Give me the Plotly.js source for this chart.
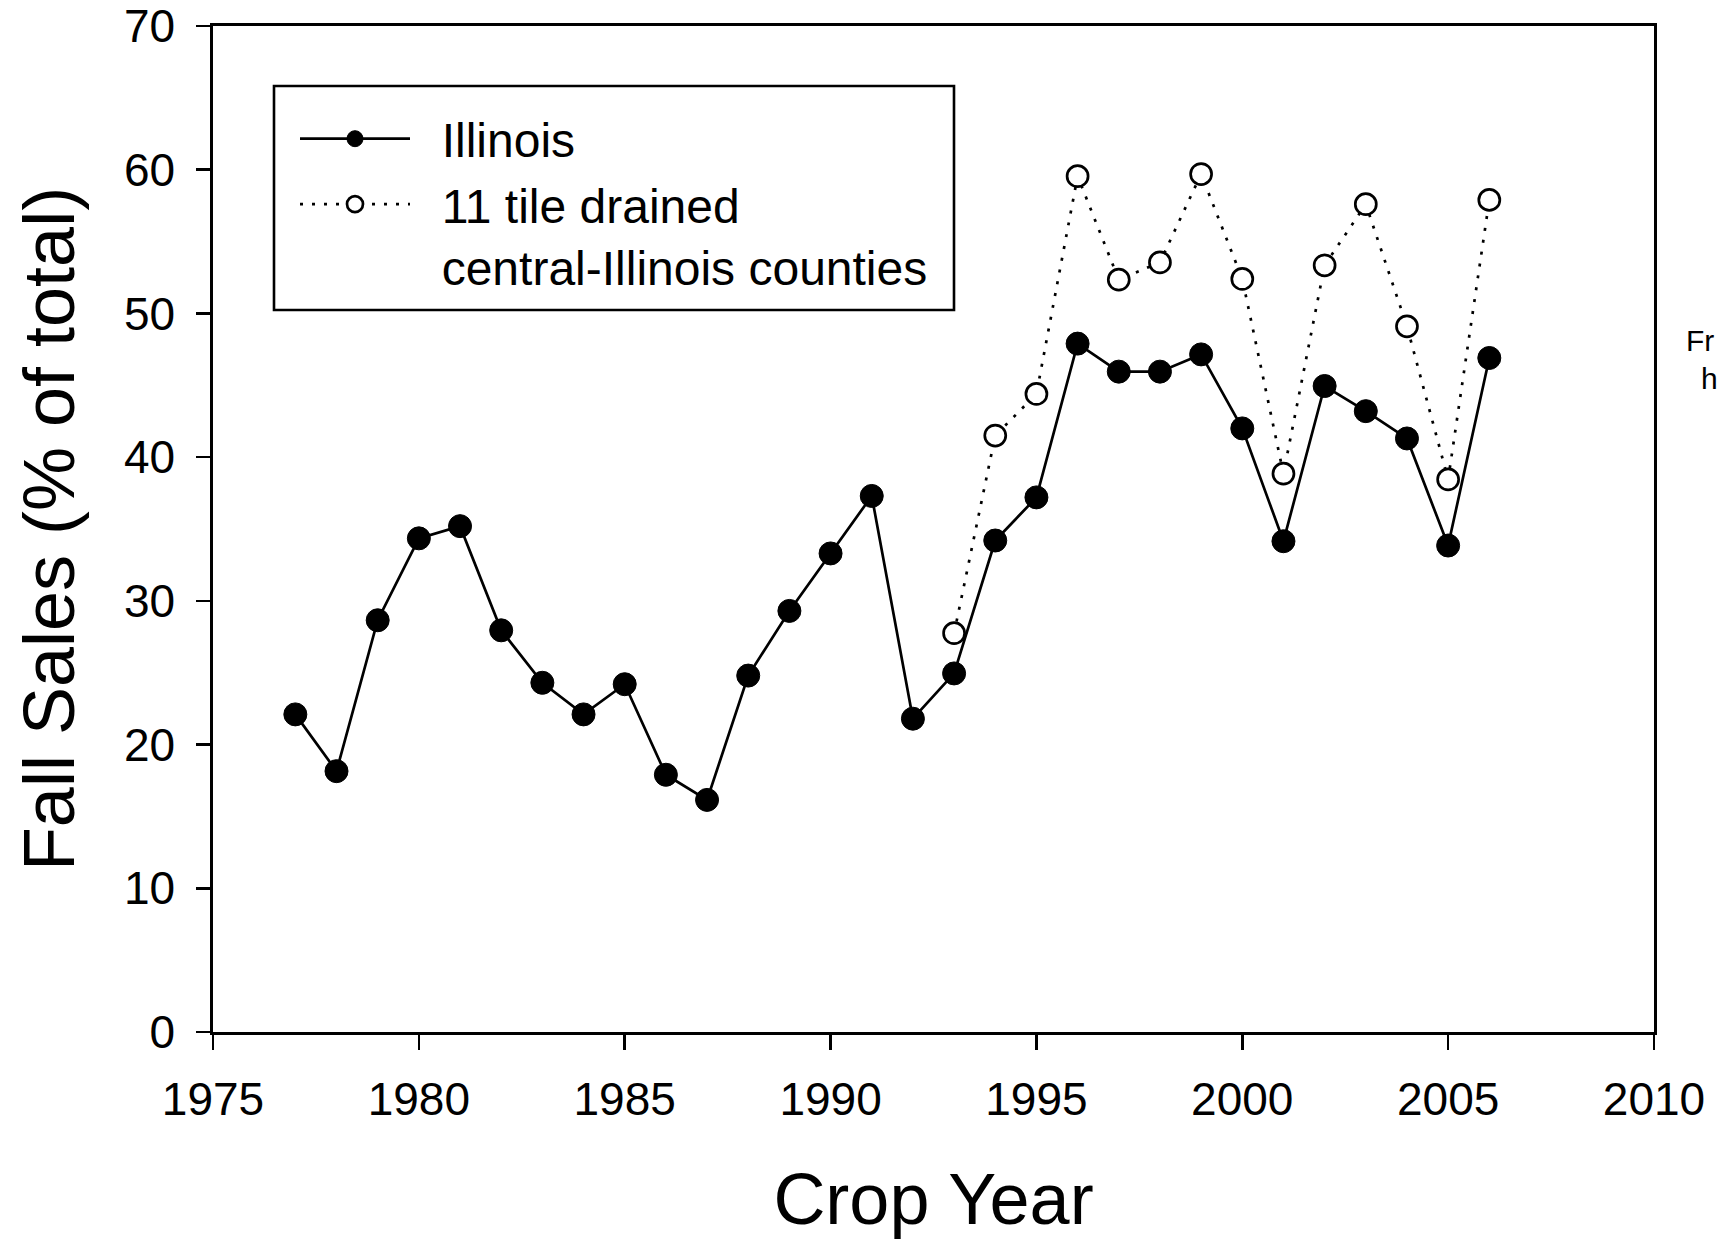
<!DOCTYPE html>
<html>
<head>
<meta charset="utf-8">
<script src="https://cdn.plot.ly/plotly-3.0.1.min.js"></script>
<style>html,body{margin:0;padding:0;background:#fff;}#chart{width:1720px;height:1239px;}</style>
</head>
<body>
<div id="chart"></div>
<script>
// Data
const illinoisYears = [1977,1978,1979,1980,1981,1982,1983,1984,1985,1986,1987,1988,1989,1990,1991,1992,1993,1994,1995,1996,1997,1998,1999,2000,2001,2002,2003,2004,2005,2006];
const illinoisValues = [22.1,18.15,28.65,34.35,35.2,27.95,24.3,22.1,24.2,17.9,16.15,24.8,29.3,33.3,37.3,21.8,24.95,34.2,37.2,47.9,45.95,45.95,47.15,42.0,34.15,44.95,43.2,41.3,33.85,46.9];
const countyYears = [1993,1994,1995,1996,1997,1998,1999,2000,2001,2002,2003,2004,2005,2006];
const countyValues = [27.75,41.5,44.4,59.55,52.35,53.55,59.7,52.4,38.85,53.35,57.6,49.1,38.45,57.9];
const xTicks = [1975,1980,1985,1990,1995,2000,2005,2010];
const yTicks = [0,10,20,30,40,50,60,70];
const NB = "\u00A0\u00A0";
const seriesNames = [NB + "Illinois", NB + "11 tile drained<br>" + NB + "central-Illinois counties"];

const FONT = "Liberation Sans, Arial, Helvetica, sans-serif";

const traces = [
  {
    x: illinoisYears, y: illinoisValues, name: seriesNames[0],
    type: "scatter", mode: "lines+markers",
    line: {color: "#000", width: 2.7},
    marker: {symbol: "circle", size: 23, color: "#000", line: {color: "#000", width: 1}},
    cliponaxis: false
  },
  {
    x: countyYears, y: countyValues, name: seriesNames[1],
    type: "scatter", mode: "lines+markers",
    line: {color: "#000", width: 2.7, dash: "3px,9px"},
    marker: {symbol: "circle", size: 21, color: "#fff", line: {color: "#000", width: 2.7}},
    cliponaxis: false
  }
];

// plot area in pixels: x 213..1654, y 26..1032
const px = v => (v - 213) / 1441;
const py = v => (1032 - v) / 1006;

const layout = {
  width: 1720, height: 1239,
  margin: {l: 213, r: 66, t: 26, b: 207},
  paper_bgcolor: "#fff", plot_bgcolor: "#fff",
  font: {family: FONT, color: "#000", size: 46},
  showlegend: true,
  legend: {
    x: px(295), y: py(101), xanchor: "left", yanchor: "top",
    bgcolor: "rgba(0,0,0,0)", borderwidth: 0,
    font: {family: FONT, size: 48, color: "#000"},
    itemwidth: 110, tracegroupgap: 0, valign: "top"
  },
  shapes: [
    {type: "rect", xref: "paper", yref: "paper", x0: px(274), x1: px(954), y0: py(86), y1: py(310),
     line: {color: "#000", width: 2.6}, fillcolor: "rgba(0,0,0,0)", layer: "above"}
  ],
  xaxis: {
    range: [1975, 2010], tickvals: xTicks, ticktext: xTicks.map(String),
    showgrid: false, zeroline: false,
    showline: true, linecolor: "#000", linewidth: 2.6, mirror: true,
    ticks: "outside", ticklen: 15, tickwidth: 2.6, tickcolor: "#000",
    tickfont: {family: FONT, size: 46, color: "#000"},
    ticklabelstandoff: 10,
    title: {text: "Crop Year", font: {family: FONT, size: 72, color: "#000"}, standoff: 52},
    automargin: false
  },
  yaxis: {
    range: [0, 70], tickvals: yTicks, ticktext: yTicks.map(String),
    showgrid: false, zeroline: false,
    showline: true, linecolor: "#000", linewidth: 2.6, mirror: true,
    ticks: "outside", ticklen: 14, tickwidth: 2.6, tickcolor: "#000",
    tickfont: {family: FONT, size: 46, color: "#000"},
    ticklabelstandoff: 12,
    title: {text: "Fall Sales (% of total)", font: {family: FONT, size: 72, color: "#000"}, standoff: 26},
    automargin: false
  },
  annotations: [
    {text: "Fr", xref: "paper", yref: "paper", x: px(1684), y: py(340),
     xanchor: "left", yanchor: "middle", showarrow: false, font: {family: FONT, size: 30, color: "#000"}},
    {text: "h", xref: "paper", yref: "paper", x: px(1699), y: py(378),
     xanchor: "left", yanchor: "middle", showarrow: false, font: {family: FONT, size: 30, color: "#000"}}
  ]
};

Plotly.newPlot("chart", traces, layout, {displayModeBar: false, staticPlot: true});
</script>
</body>
</html>
